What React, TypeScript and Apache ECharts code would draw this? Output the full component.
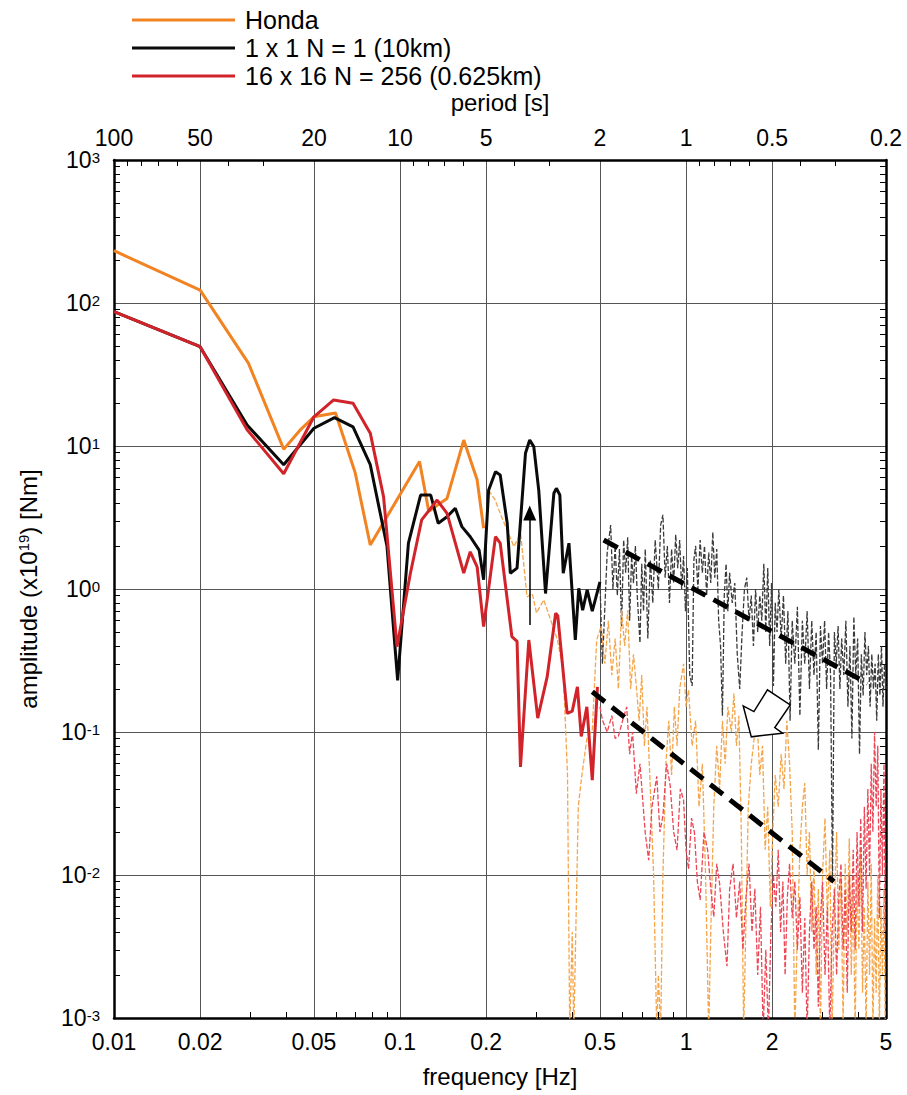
import React, { useEffect, useRef } from "react";
import * as echarts from "echarts";

const FONT = "'Liberation Sans', Arial, Helvetica, sans-serif";

// ---- axis tick definitions ----
const freqTicks = [0.01, 0.02, 0.05, 0.1, 0.2, 0.5, 1, 2, 5];
const freqTickLabels = ["0.01", "0.02", "0.05", "0.1", "0.2", "0.5", "1", "2", "5"];
const periodTickLabels = ["100", "50", "20", "10", "5", "2", "1", "0.5", "0.2"];
const freqMinorTicks = [0.03, 0.04, 0.06, 0.07, 0.08, 0.09, 0.3, 0.4, 0.6, 0.7, 0.8, 0.9, 3, 4];
const periodMinorTicks = [90, 80, 70, 60, 40, 30, 9, 8, 7, 6, 4, 3, 0.9, 0.8, 0.7, 0.6, 0.4, 0.3];
const ampDecades = [-3, -2, -1, 0, 1, 2];
const ampMinorMultipliers = [2, 3, 4, 5, 6, 7, 8, 9];

const seriesNames = ["Honda", "1 x 1 N = 1 (10km)", "16 x 16 N = 256 (0.625km)"];

// ---- data: [frequency Hz, amplitude x1e19 Nm] ----
const hondaLow = [
  [0.01, 232], [0.02, 123], [0.0295, 38], [0.0392, 9.5], [0.0447, 12.9], [0.05, 16],
  [0.0595, 17], [0.0697, 6.5], [0.0787, 2.03], [0.117, 7.8], [0.126, 3.5], [0.146, 4.3],
  [0.167, 11], [0.186, 5.8], [0.196, 2.66],
];

const grid1Low = [
  [0.01, 87], [0.02, 49.5], [0.0292, 14], [0.0392, 7.4], [0.05, 13.3], [0.059, 15.8],
  [0.0685, 13.6], [0.0787, 7.4], [0.09, 2.0], [0.0981, 0.23], [0.107, 2.09], [0.118, 4.54],
  [0.128, 4.54], [0.136, 2.88], [0.146, 3.2], [0.156, 3.67], [0.1645, 2.73], [0.176, 2.32],
  [0.189, 1.87], [0.196, 1.16], [0.204, 4.9], [0.2156, 6.6], [0.224, 6.27], [0.237, 2.88],
  [0.243, 1.29], [0.2565, 1.4], [0.2745, 8.9], [0.284, 11.0], [0.2935, 9.9], [0.3055, 4.9],
  [0.3226, 0.93], [0.345, 4.67], [0.352, 5.06], [0.362, 4.54], [0.372, 1.29], [0.3895, 2.09],
  [0.41, 0.44], [0.4215, 1.01], [0.435, 0.71], [0.451, 0.985], [0.47, 0.7], [0.5, 1.12],
];

const grid256Low = [
  [0.01, 87], [0.02, 49.5], [0.0292, 13], [0.0392, 6.4], [0.05, 16], [0.0586, 21],
  [0.0685, 19.9], [0.0787, 12.3], [0.0876, 4.41], [0.0976, 0.395], [0.1087, 1.29],
  [0.119, 3.04], [0.1348, 4.19], [0.146, 3.38], [0.167, 1.29], [0.176, 1.82], [0.186, 1.43],
  [0.196, 0.546], [0.2156, 2.32], [0.224, 2.09], [0.246, 0.465], [0.2565, 0.43],
  [0.2637, 0.057], [0.282, 0.44], [0.303, 0.125], [0.327, 0.244], [0.35, 0.676],
  [0.356, 0.65], [0.384, 0.135], [0.4, 0.14], [0.417, 0.207], [0.43, 0.093], [0.45, 0.15],
  [0.47, 0.046], [0.49, 0.207],
];

const hondaHigh = [
  [0.204, 4.9], [0.215, 4.2], [0.225, 3.3], [0.25, 1.98], [0.264, 2.44], [0.278, 0.88],
  [0.29, 0.93], [0.3, 0.68], [0.318, 0.84], [0.335, 0.62], [0.355, 0.44], [0.372, 0.27],
  [0.385, 0.05], [0.392, 0.0008], [0.4, 0.004], [0.405, 0.0008], [0.42, 0.03], [0.43, 0.046],
  [0.45, 0.09], [0.47, 0.103], [0.487, 0.44], [0.505, 0.55], [0.52, 0.3], [0.535, 0.6],
  [0.55, 0.25], [0.565, 0.45], [0.58, 0.2], [0.595, 0.71], [0.61, 0.4], [0.625, 0.71],
  [0.64, 0.2], [0.655, 0.35], [0.67, 0.21], [0.685, 0.12], [0.7, 0.25], [0.715, 0.08],
  [0.73, 0.15], [0.75, 0.04], [0.77, 0.01], [0.79, 0.0008], [0.8, 0.002], [0.815, 0.0008],
  [0.83, 0.01], [0.85, 0.06], [0.87, 0.12], [0.89, 0.05], [0.91, 0.15], [0.93, 0.08],
  [0.95, 0.2], [0.98, 0.3], [1.0, 0.15], [1.02, 0.197], [1.05, 0.08], [1.08, 0.12],
  [1.11, 0.03], [1.14, 0.06], [1.17, 0.01], [1.2, 0.0008], [1.22, 0.004], [1.25, 0.03],
  [1.28, 0.08], [1.31, 0.04], [1.34, 0.12], [1.37, 0.06], [1.4, 0.15], [1.44, 0.1],
  [1.47, 0.186], [1.5, 0.08], [1.53, 0.13], [1.56, 0.02], [1.59, 0.0008], [1.62, 0.005],
  [1.65, 0.03], [1.69, 0.06], [1.73, 0.09], [1.77, 0.122], [1.81, 0.05], [1.85, 0.08],
  [1.89, 0.015], [1.93, 0.03], [1.97, 0.006], [2.01, 0.02], [2.05, 0.05], [2.1, 0.03],
  [2.15, 0.07], [2.2, 0.04], [2.25, 0.12], [2.3, 0.06], [2.35, 0.02], [2.4, 0.0008],
  [2.45, 0.004], [2.5, 0.015], [2.55, 0.03], [2.6, 0.044], [2.65, 0.01], [2.7, 0.02],
  [2.75, 0.004], [2.8, 0.012], [2.85, 0.002], [2.9, 0.008], [2.95, 0.0008], [3.0, 0.01],
  [3.06, 0.025], [3.12, 0.005], [3.18, 0.015], [3.24, 0.0008], [3.3, 0.006], [3.36, 0.02],
  [3.42, 0.003], [3.48, 0.01], [3.54, 0.0009], [3.6, 0.012], [3.66, 0.004], [3.72, 0.018],
  [3.78, 0.002], [3.84, 0.008], [3.9, 0.0008], [3.96, 0.01], [4.02, 0.003], [4.08, 0.015],
  [4.14, 0.0015], [4.2, 0.006], [4.26, 0.0008], [4.32, 0.009], [4.38, 0.002], [4.44, 0.012],
  [4.5, 0.0008], [4.56, 0.005], [4.62, 0.0015], [4.68, 0.01], [4.74, 0.0008], [4.8, 0.006],
  [4.86, 0.002], [4.92, 0.008], [4.97, 0.0009],
];

const grid1High = [
  [0.5, 1.12], [0.51, 0.3], [0.53, 1.8], [0.545, 2.8], [0.555, 1.0], [0.565, 2.0],
  [0.575, 0.9], [0.585, 1.9], [0.595, 0.55], [0.605, 2.2], [0.615, 1.3], [0.625, 2.3],
  [0.635, 0.6], [0.645, 1.7], [0.655, 1.1], [0.665, 2.0], [0.675, 0.9], [0.69, 0.42],
  [0.7, 1.5], [0.71, 0.7], [0.72, 1.9], [0.735, 0.45], [0.75, 1.6], [0.765, 0.8],
  [0.78, 2.2], [0.8, 1.0], [0.815, 2.8], [0.83, 3.3], [0.845, 1.2], [0.86, 2.0],
  [0.875, 0.8], [0.89, 1.9], [0.905, 1.1], [0.92, 2.4], [0.935, 1.4], [0.95, 2.2],
  [0.965, 1.0], [0.98, 1.7], [0.995, 0.7], [1.01, 1.4], [1.03, 0.25], [1.05, 0.21],
  [1.065, 1.6], [1.08, 2.0], [1.1, 1.0], [1.12, 2.2], [1.14, 1.3], [1.16, 2.0], [1.18, 0.9],
  [1.2, 1.8], [1.22, 1.1], [1.24, 2.5], [1.26, 1.2], [1.28, 1.9], [1.3, 0.6], [1.32, 0.4],
  [1.34, 0.13], [1.36, 0.9], [1.38, 1.5], [1.4, 0.7], [1.42, 1.3], [1.45, 0.8], [1.48, 1.1],
  [1.51, 0.35], [1.54, 0.2], [1.57, 0.5], [1.6, 1.0], [1.63, 1.2], [1.66, 0.6], [1.69, 0.9],
  [1.72, 0.4], [1.75, 1.0], [1.78, 0.5], [1.81, 0.9], [1.84, 0.6], [1.87, 1.5], [1.9, 0.5],
  [1.93, 1.4], [1.96, 0.4], [1.99, 1.1], [2.02, 0.21], [2.05, 0.8], [2.08, 0.5], [2.11, 1.0],
  [2.15, 0.45], [2.19, 0.9], [2.23, 0.3], [2.27, 0.7], [2.31, 0.12], [2.35, 0.6], [2.4, 0.3],
  [2.45, 0.75], [2.5, 0.13], [2.55, 0.6], [2.6, 0.3], [2.65, 0.7], [2.7, 0.2], [2.75, 0.6],
  [2.8, 0.25], [2.85, 0.5], [2.9, 0.075], [2.95, 0.55], [3.0, 0.3], [3.05, 0.6], [3.1, 0.2],
  [3.15, 0.5], [3.2, 0.25], [3.25, 0.009], [3.3, 0.5], [3.35, 0.3], [3.4, 0.55], [3.45, 0.2],
  [3.5, 0.45], [3.56, 0.25], [3.62, 0.6], [3.68, 0.15], [3.74, 0.4], [3.8, 0.09], [3.86, 0.64],
  [3.92, 0.25], [3.98, 0.45], [4.04, 0.07], [4.1, 0.35], [4.16, 0.18], [4.22, 0.5], [4.28, 0.25],
  [4.34, 0.4], [4.4, 0.15], [4.46, 0.35], [4.52, 0.2], [4.58, 0.3], [4.64, 0.12], [4.7, 0.35],
  [4.76, 0.18], [4.82, 0.4], [4.88, 0.15], [4.94, 0.3], [5.0, 0.2],
];

const grid256High = [
  [0.5, 0.15], [0.51, 0.121], [0.53, 0.1], [0.55, 0.13], [0.565, 0.09], [0.58, 0.0935],
  [0.6, 0.12], [0.62, 0.15], [0.635, 0.07], [0.65, 0.1], [0.67, 0.037], [0.69, 0.06],
  [0.72, 0.0196], [0.74, 0.0127], [0.76, 0.03], [0.79, 0.049], [0.81, 0.02], [0.83, 0.026],
  [0.855, 0.06], [0.88, 0.042], [0.905, 0.02], [0.93, 0.0149], [0.955, 0.04], [0.98, 0.0335],
  [1.0, 0.015], [1.02, 0.011], [1.045, 0.025], [1.07, 0.0197], [1.095, 0.009], [1.12, 0.0067],
  [1.155, 0.02], [1.19, 0.0149], [1.22, 0.008], [1.25, 0.0051], [1.28, 0.012], [1.31, 0.0087],
  [1.35, 0.004], [1.39, 0.0023], [1.42, 0.008], [1.46, 0.012], [1.5, 0.005], [1.54, 0.009],
  [1.58, 0.003], [1.62, 0.007], [1.66, 0.012], [1.7, 0.004], [1.74, 0.008], [1.78, 0.002],
  [1.82, 0.006], [1.86, 0.0008], [1.9, 0.003], [1.94, 0.0008], [1.98, 0.004], [2.02, 0.01],
  [2.06, 0.006], [2.1, 0.015], [2.14, 0.004], [2.18, 0.009], [2.22, 0.002], [2.26, 0.007],
  [2.3, 0.012], [2.35, 0.005], [2.4, 0.009], [2.45, 0.003], [2.5, 0.007], [2.55, 0.0015],
  [2.6, 0.005], [2.65, 0.0008], [2.7, 0.004], [2.75, 0.009], [2.8, 0.003], [2.85, 0.006],
  [2.9, 0.0012], [2.95, 0.005], [3.0, 0.009], [3.06, 0.002], [3.12, 0.006], [3.18, 0.0008],
  [3.24, 0.004], [3.3, 0.008], [3.36, 0.002], [3.42, 0.007], [3.48, 0.012], [3.54, 0.003],
  [3.6, 0.008], [3.66, 0.0015], [3.72, 0.01], [3.78, 0.004], [3.84, 0.015], [3.9, 0.003],
  [3.96, 0.02], [4.02, 0.006], [4.08, 0.025], [4.14, 0.004], [4.2, 0.03], [4.26, 0.008],
  [4.32, 0.04], [4.38, 0.01], [4.44, 0.06], [4.5, 0.02], [4.56, 0.1], [4.62, 0.03],
  [4.68, 0.08], [4.74, 0.005], [4.8, 0.04], [4.86, 0.01], [4.92, 0.06], [4.97, 0.004],
];

// annotation lines (frequency, amplitude)
const trendUpper = [[0.515, 2.2], [4.31, 0.219]];
const trendLower = [[0.47, 0.191], [3.29, 0.009]];
const thinArrow = [[0.284, 0.56], [0.284, 3.4]];
const hollowArrowAt = [1.914, 0.135];

// ---- helpers ----
const lg = (v: number) => Math.log10(v);
const toXY = (pts: number[][]) => pts.map(([f, a]) => [lg(f), lg(a)]);
const X_MIN = lg(0.01);
const X_MAX = lg(5);

const ampMinor: number[] = [];
ampDecades.forEach((e) => ampMinorMultipliers.forEach((m) => ampMinor.push(lg(m * Math.pow(10, e)))));

const findLabel = (v: number, labels: string[]) => {
  for (let i = 0; i < freqTicks.length; i++) {
    if (Math.abs(lg(freqTicks[i]) - v) < 1e-6) return labels[i];
  }
  return "";
};

const tickTxt = { fontFamily: FONT, color: "#000", fontSize: 23, lineHeight: 20 };
const nameTxt = { fontFamily: FONT, color: "#000", fontSize: 24 };
const frameLine = { show: true, onZero: false, lineStyle: { color: "#000", width: 2.5 } };
const minorTick = (vals: number[]) => ({
  show: true,
  inside: true,
  length: 6,
  customValues: vals,
  lineStyle: { color: "#000", width: 1 },
});
const gridLine = { show: true, lineStyle: { color: "#555", width: 1 } };
const labelRich = {
  b: { fontSize: 23, fontFamily: FONT, color: "#000", lineHeight: 20 },
  s: { fontSize: 15, fontFamily: FONT, color: "#000", lineHeight: 12, verticalAlign: "top" as const },
};
const nameRich = {
  b: { fontSize: 24, fontFamily: FONT, color: "#000" },
  s: { fontSize: 15, fontFamily: FONT, color: "#000", verticalAlign: "top" as const },
};

const COLORS = {
  honda: "#f28322",
  grid1: "#0a0a0a",
  grid256: "#d1232a",
  hondaHi: "#f6a54a",
  grid1Hi: "#3a3a3a",
  grid256Hi: "#ec4756",
};

const solid = (name: string, data: number[][], color: string) => ({
  name,
  type: "line",
  data: toXY(data),
  showSymbol: false,
  symbol: "none",
  clip: true,
  itemStyle: { color },
  lineStyle: { color, width: 3 },
  z: 5,
});

const dashed = (name: string, data: number[][], color: string) => ({
  name,
  type: "line",
  data: toXY(data),
  showSymbol: false,
  symbol: "none",
  clip: true,
  itemStyle: { color },
  lineStyle: { color, width: 1.3, type: [5, 2] },
  z: 3,
});

const option = {
  animation: false,
  backgroundColor: "#fff",
  grid: { left: 114, top: 160, width: 772, height: 858, containLabel: false },
  legend: {
    data: seriesNames,
    orient: "vertical",
    left: 127,
    top: 1,
    itemWidth: 103,
    itemHeight: 3,
    itemGap: 0,
    icon: "rect",
    selectedMode: false,
    textStyle: { fontSize: 25, fontFamily: FONT, color: "#000", lineHeight: 28, padding: [0, 0, 0, 5] },
  },
  xAxis: [
    {
      type: "value",
      position: "bottom",
      min: X_MIN,
      max: X_MAX,
      name: "frequency [Hz]",
      nameLocation: "middle",
      nameGap: 46,
      nameTextStyle: nameTxt,
      axisLine: frameLine,
      axisTick: { show: false, customValues: freqTicks.map(lg) },
      axisLabel: {
        customValues: freqTicks.map(lg),
        formatter: (v: number) => findLabel(v, freqTickLabels),
        margin: 14,
        ...tickTxt,
      },
      splitLine: gridLine,
    },
    {
      type: "value",
      position: "bottom",
      min: X_MIN,
      max: X_MAX,
      axisLine: { show: false, onZero: false },
      axisLabel: { show: false },
      splitLine: { show: false },
      axisTick: minorTick(freqMinorTicks.map(lg)),
    },
    {
      type: "value",
      position: "top",
      min: X_MIN,
      max: X_MAX,
      name: "period [s]",
      nameLocation: "middle",
      nameGap: 46,
      nameTextStyle: nameTxt,
      axisLine: frameLine,
      axisTick: minorTick(periodMinorTicks.map((p) => lg(1 / p))),
      axisLabel: {
        customValues: freqTicks.map(lg),
        formatter: (v: number) => findLabel(v, periodTickLabels),
        margin: 12,
        ...tickTxt,
      },
      splitLine: { show: false },
    },
  ],
  yAxis: [
    {
      type: "value",
      position: "left",
      min: -3,
      max: 3,
      interval: 1,
      name: "{b|amplitude (x10}{s|19}{b|) [Nm]}",
      nameLocation: "middle",
      nameGap: 74,
      nameTextStyle: { ...nameTxt, rich: nameRich },
      axisLine: frameLine,
      axisTick: { show: false },
      axisLabel: {
        formatter: (v: number) => `{b|10}{s|${Math.round(v)}}`,
        margin: 14,
        rich: labelRich,
      },
      splitLine: gridLine,
    },
    {
      type: "value",
      position: "left",
      min: -3,
      max: 3,
      interval: 1,
      axisLine: { show: false, onZero: false },
      axisLabel: { show: false },
      splitLine: { show: false },
      axisTick: minorTick(ampMinor),
    },
    {
      type: "value",
      position: "right",
      min: -3,
      max: 3,
      interval: 1,
      axisLine: frameLine,
      axisLabel: { show: false },
      splitLine: { show: false },
      axisTick: minorTick(ampMinor),
    },
  ],
  series: [
    dashed("1 x 1 high", grid1High, COLORS.grid1Hi),
    dashed("Honda high", hondaHigh, COLORS.hondaHi),
    dashed("16 x 16 high", grid256High, COLORS.grid256Hi),
    solid(seriesNames[0], hondaLow, COLORS.honda),
    solid(seriesNames[1], grid1Low, COLORS.grid1),
    solid(seriesNames[2], grid256Low, COLORS.grid256),
    {
      name: "trend upper",
      type: "line",
      data: toXY(trendUpper),
      showSymbol: false,
      symbol: "none",
      lineStyle: { color: "#000", width: 5, type: [16, 9] },
      z: 8,
    },
    {
      name: "trend lower",
      type: "line",
      data: toXY(trendLower),
      showSymbol: false,
      symbol: "none",
      lineStyle: { color: "#000", width: 5, type: [16, 9] },
      z: 8,
    },
    {
      name: "annotations",
      type: "line",
      data: [],
      z: 9,
      markLine: {
        silent: true,
        animation: false,
        symbol: ["none", "triangle"],
        symbolSize: [13, 15],
        label: { show: false },
        lineStyle: { color: "#000", width: 1.5, type: "solid" },
        data: [
          [
            { coord: [lg(thinArrow[0][0]), lg(thinArrow[0][1])] },
            { coord: [lg(thinArrow[1][0]), lg(thinArrow[1][1])] },
          ],
        ],
      },
      markPoint: {
        silent: true,
        animation: false,
        symbol: "path://M8,47 L0,16 L10.6,21.7 L24,0 L46.6,15 L31.3,37.7 L39,43.3 Z",
        symbolSize: [47, 47],
        itemStyle: { color: "#fff", borderColor: "#000", borderWidth: 1.5 },
        label: { show: false },
        data: [{ coord: [lg(hollowArrowAt[0]), lg(hollowArrowAt[1])] }],
      },
    },
  ],
};

export default function App() {
  const ref = useRef<HTMLDivElement>(null);
  useEffect(() => {
    const chart = echarts.init(ref.current!, null, { renderer: "svg" });
    chart.setOption(option as any);
    return () => chart.dispose();
  }, []);
  return (
    <div
      ref={ref}
      style={{ position: "absolute", left: 0, top: 0, width: 907, height: 1095, background: "#fff" }}
    />
  );
}
